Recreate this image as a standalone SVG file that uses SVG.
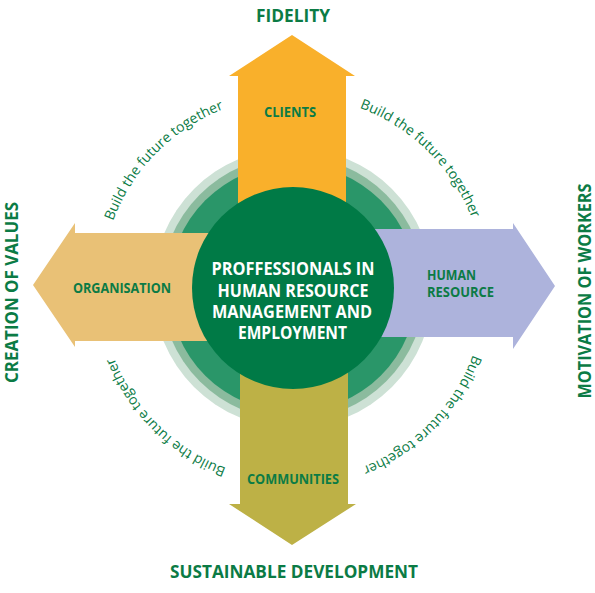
<svg xmlns="http://www.w3.org/2000/svg" width="595" height="593" viewBox="0 0 595 593">
<style>
.lbl{font-family:"Open Sans","Liberation Sans",sans-serif;font-weight:bold;fill:#0b7b45;}
.big{font-size:18px;}
.mid{font-size:13.5px;}
.ctr{font-family:"Open Sans","Liberation Sans",sans-serif;font-weight:bold;font-size:17px;fill:#ffffff;}
.arc{font-family:"Open Sans","Liberation Sans",sans-serif;font-size:14px;fill:#0b7b45;}
</style>
<defs>
<path id="ring" d="M 293,96 A 192 192 0 1 1 293,480 A 192 192 0 1 1 293,96"/>
</defs>
<rect width="595" height="593" fill="#ffffff"/>
<g id="rings">
<circle cx="293" cy="288" r="140" fill="#cde1d5"/>
<circle cx="293" cy="288" r="132" fill="#8bbb9e"/>
<circle cx="293" cy="288" r="124" fill="#2a9669"/>
</g>
<g id="connectors">
<polygon id="arrow-clients" points="238,250 238,76 229,76 292,35 355,76 346,76 346,250" fill="#f9b02b"/>
<polygon id="arrow-organisation" points="250,233 75,233 75,223 33,285 75,347 75,341 250,341" fill="#e9c176"/>
<polygon id="arrow-human" points="340,229 513,229 513,223 555,286 513,349 513,337 340,337" fill="#adb3dc"/>
<polygon id="arrow-communities" points="240,330 240,504 229,504 292,545 356,504 348,504 348,330" fill="#bdb146"/>
</g>
<g id="center">
<circle cx="293" cy="288" r="101" fill="#007a46"/>
<text class="ctr" text-anchor="middle" x="293" y="275" textLength="163" lengthAdjust="spacingAndGlyphs">PROFFESSIONALS IN</text>
<text class="ctr" text-anchor="middle" x="293" y="296.5" textLength="151" lengthAdjust="spacingAndGlyphs">HUMAN RESOURCE</text>
<text class="ctr" text-anchor="middle" x="292" y="318" textLength="160" lengthAdjust="spacingAndGlyphs">MANAGEMENT AND</text>
<text class="ctr" text-anchor="middle" x="292.5" y="339" textLength="109" lengthAdjust="spacingAndGlyphs">EMPLOYMENT</text>
</g>
<g id="clients"><text class="lbl mid" text-anchor="middle" x="290" y="117" textLength="52" lengthAdjust="spacingAndGlyphs">CLIENTS</text></g>
<g id="organisation"><text class="lbl mid" text-anchor="middle" x="122" y="293" textLength="98" lengthAdjust="spacingAndGlyphs">ORGANISATION</text></g>
<g id="human-resource">
<text class="lbl mid" x="427" y="280" textLength="49" lengthAdjust="spacingAndGlyphs">HUMAN</text>
<text class="lbl mid" x="427" y="297" textLength="67" lengthAdjust="spacingAndGlyphs">RESOURCE</text>
</g>
<g id="communities"><text class="lbl mid" text-anchor="middle" x="293" y="484" textLength="92" lengthAdjust="spacingAndGlyphs">COMMUNITIES</text></g>
<g id="fidelity"><text class="lbl big" text-anchor="middle" x="293" y="22" textLength="74" lengthAdjust="spacingAndGlyphs">FIDELITY</text></g>
<g id="sustainable"><text class="lbl big" text-anchor="middle" x="294" y="578" textLength="248" lengthAdjust="spacingAndGlyphs">SUSTAINABLE DEVELOPMENT</text></g>
<g id="creation"><text class="lbl big" text-anchor="middle" transform="translate(18,292.5) rotate(-90)" textLength="181" lengthAdjust="spacingAndGlyphs">CREATION OF VALUES</text></g>
<g id="motivation"><text class="lbl big" text-anchor="middle" transform="translate(591,291) rotate(-90)" textLength="215" lengthAdjust="spacingAndGlyphs">MOTIVATION OF WORKERS</text></g>
<g id="slogans">
<text class="arc" text-anchor="middle"><textPath href="#ring" startOffset="149.1">Build the future together</textPath></text>
<text class="arc" text-anchor="middle"><textPath href="#ring" startOffset="450.7">Build the future together</textPath></text>
<text class="arc" text-anchor="middle"><textPath href="#ring" startOffset="752.3">Build the future together</textPath></text>
<text class="arc" text-anchor="middle"><textPath href="#ring" startOffset="1053.9">Build the future together</textPath></text>
</g>
</svg>
